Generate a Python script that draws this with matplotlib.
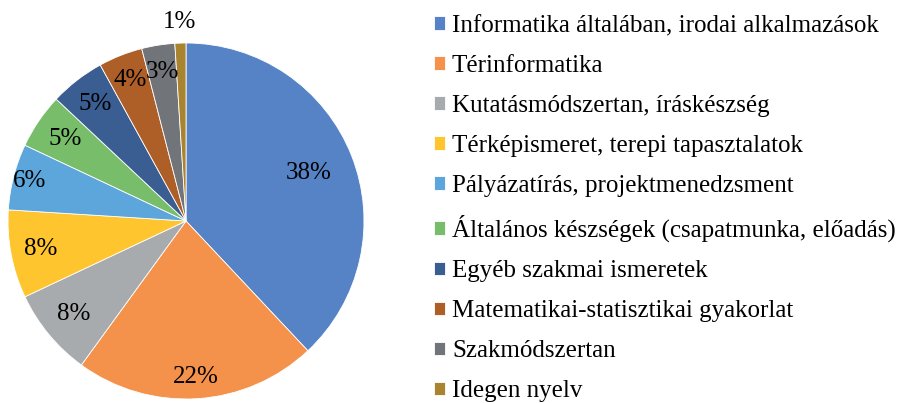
import numpy as np
import matplotlib
matplotlib.use("Agg")
import matplotlib.pyplot as plt

plt.rcParams['font.family'] = ['Liberation Serif', 'DejaVu Serif']

labels = ["Informatika általában, irodai alkalmazások", "Térinformatika",
          "Kutatásmódszertan, íráskészség", "Térképismeret, terepi tapasztalatok",
          "Pályázatírás, projektmenedzsment", "Általános készségek (csapatmunka, előadás)",
          "Egyéb szakmai ismeretek", "Matematikai-statisztikai gyakorlat",
          "Szakmódszertan", "Idegen nyelv"]
values = [38, 22, 8, 8, 6, 5, 5, 4, 3, 1]
colors = ["#5583C5", "#F4914A", "#A8ABAE", "#FEC52E", "#5DA6DB",
          "#77BD6A", "#3A5D92", "#AE5E27", "#717478", "#A88430"]
# label distance from centre, as fraction of radius
label_r = [0.74, 0.88, 0.82, 0.83, 0.91, 0.82, 0.83, 0.85, 0.85, 1.12]

W, H = 898, 403
fig = plt.figure(figsize=(W / 100, H / 100), dpi=100)
cx, cy, R = 186, 221, 178
ax = fig.add_axes([(cx - R) / W, (H - cy - R) / H, 2 * R / W, 2 * R / H])

wedges, _ = ax.pie(values, colors=colors, startangle=90, counterclock=False,
                   radius=1, wedgeprops=dict(edgecolor="white", linewidth=0.6))
for w, v, r in zip(wedges, values, label_r):
    ang = np.deg2rad((w.theta1 + w.theta2) / 2)
    ax.text(r * np.cos(ang), r * np.sin(ang), f"{v}%", ha="center", va="center",
            fontsize=18)
ax.set_xlim(-1, 1)
ax.set_ylim(-1, 1)
ax.set_aspect("equal")
ax.axis("off")

fig.legend(wedges, labels, loc="upper left", bbox_to_anchor=(434 / W, 1 - 15 / H),
           frameon=False, fontsize=18, handlelength=0.42, handleheight=0.45,
           handletextpad=0.3, labelspacing=0.72, borderpad=0, borderaxespad=0)

fig.savefig("out.png", dpi=100)
